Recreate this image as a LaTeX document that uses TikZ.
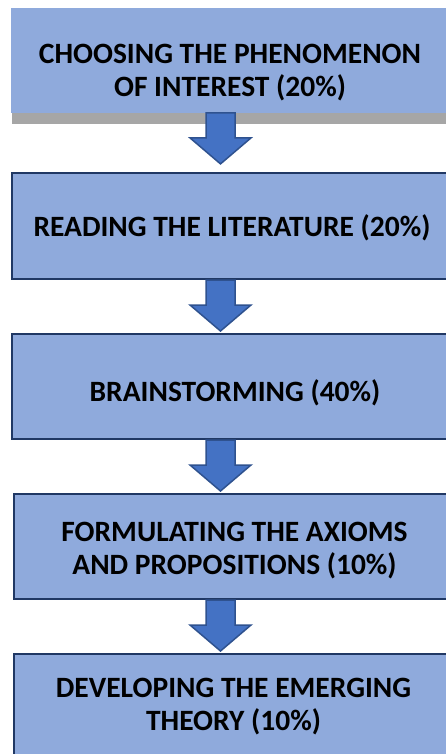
\documentclass[tikz,border=0pt]{standalone}
\usepackage{fontspec}
\setmainfont{Carlito}
\usetikzlibrary{calc}

\definecolor{boxfill}{HTML}{8FAADC}
\definecolor{boxline}{HTML}{203864}
\definecolor{arrfill}{HTML}{4472C4}
\definecolor{arrline}{HTML}{2F528F}
\definecolor{shadowgrey}{HTML}{A6A6A6}

\tikzset{
  stagebox/.style={draw=boxline, line width=2pt, fill=boxfill, rectangle,
    inner sep=0pt, anchor=north west},
  plainbox/.style={fill=boxfill, rectangle, inner sep=0pt, anchor=north west},
  stagelabel/.style={font=\fontsize{29.5}{33}\selectfont\bfseries, align=center,
    inner sep=0pt, text=black},
  blockarrow/.style={draw=arrline, line width=1.5pt, fill=arrfill, line join=miter},
}

% downward block arrow starting at the bottom of a box
\newcommand{\flowarrow}[1]{%
  \draw[blockarrow] let \p1=(#1.south -| ax) in
    (\x1-14.5pt,\y1) -- (\x1-14.5pt,\y1-25pt) -- (\x1-30.5pt,\y1-25pt)
    -- (\x1,\y1-51pt) -- (\x1+30.5pt,\y1-25pt) -- (\x1+14.5pt,\y1-25pt)
    -- (\x1+14.5pt,\y1) -- cycle;}

\begin{document}
\begin{tikzpicture}[x=1pt,y=-1pt]
  \useasboundingbox (0,0) rectangle (446,754);
  \clip (0,0) rectangle (446,754);
  \fill[white] (0,0) rectangle (446,754);

  \coordinate (ax) at (220.5,0);

  % first stage: no outline, grey band underneath
  \fill[shadowgrey] (12,112) rectangle (452,124);
  \node[plainbox, minimum width=441pt, minimum height=104.5pt] (b1) at (11,8) {};

  \node[stagebox, minimum width=441pt, minimum height=106pt] (b2) at (11,172) {};
  \node[stagebox, minimum width=441pt, minimum height=105pt] (b3) at (11,333) {};
  \node[stagebox, minimum width=439pt, minimum height=105pt] (b4) at (13,493) {};
  \node[stagebox, minimum width=439pt, minimum height=105pt] (b5) at (13,653) {};

  \node[stagelabel] (t1) at (230,73) {CHOOSING THE PHENOMENON\\OF INTEREST (20\%)};
  \node[stagelabel] (t2) at (232,228) {READING THE LITERATURE (20\%)};
  \node[stagelabel] (t3) at (235,392.5) {BRAINSTORMING (40\%)};
  \node[stagelabel] (t4) at (234.5,550.5) {FORMULATING THE AXIOMS\\AND PROPOSITIONS (10\%)};
  \node[stagelabel] (t5) at (233.5,707) {DEVELOPING THE EMERGING\\THEORY (10\%)};

  \flowarrow{b1}
  \flowarrow{b2}
  \flowarrow{b3}
  \flowarrow{b4}
\end{tikzpicture}
\end{document}
